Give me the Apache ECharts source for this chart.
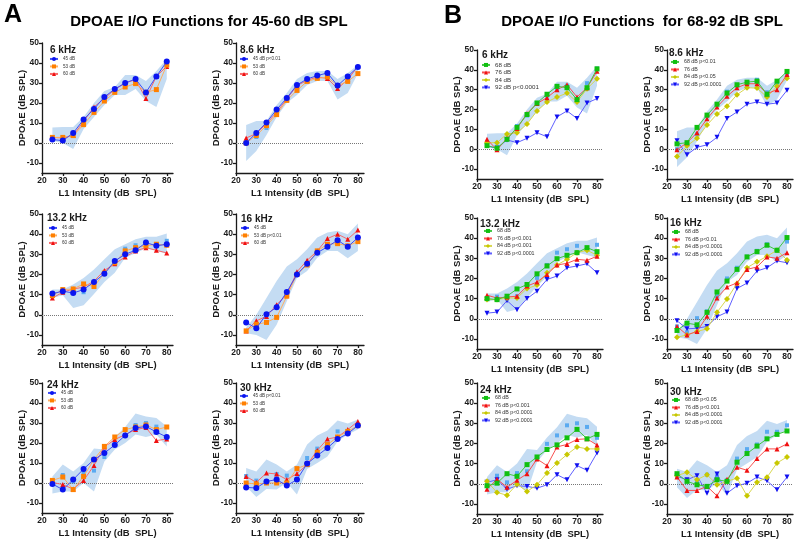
<!DOCTYPE html>
<html><head><meta charset="utf-8">
<script src="https://cdn.jsdelivr.net/npm/echarts@6/dist/echarts.min.js"></script>
<style>html,body{margin:0;padding:0;background:#fff}#c{width:800px;height:542px}</style>
</head><body><div id="c"></div>
<script>
// ---------------- DATA ----------------
const l1Levels = [25,30,35,40,45,50,55,60,65,70,75,80];
const xTickValues = [20,30,40,50,60,70,80];
const yTickValues = [-10,0,10,20,30,40,50];
const freqLabels = ['6 kHz','8.6 kHz','13.2 kHz','16 kHz','24 kHz','30 kHz'];

// normal (control) range band and control mean, per frequency
const ctrlLow6  = [1,0,-3,7,13,19,24,24,27,21,18,32];
const ctrlHigh6 = [7.8,8,8,13,20,26,28,34,34,31,36,42];
const ctrlMean6 = [1.7,1.2,5,11.7,17,23,27,30,32,25.3,33.3,40.7];
const ctrlLow8  = [-9,-4,4,13,20,24,29,31,31,21.7,25,34.7];
const ctrlHigh8 = [9,11,11,19,25,32,35,36,36,32,35,39];
const ctrlMean8 = [0,3,7.5,16.7,22.5,29,32,33.7,35,28.7,33.3,38];
const ctrlLow13  = [8.3,9.7,3.3,4.7,10.3,16.3,20.8,28.3,30.5,33,31.7,30.3];
const ctrlHigh13 = [12.5,12.5,15,18.3,22.5,27.5,32.5,35,37.5,38.7,38.7,40.3];
const ctrlMean13 = [10.2,11,11,11.2,16.3,20.3,26.7,32.8,34.5,36.2,35,36.7];
const ctrlLow16  = [-9.2,-10,-12.5,-5,6.7,18.3,21.7,28.3,31.7,31.7,28,31.7];
const ctrlHigh16 = [-6.3,0,8.3,16.7,24,27.5,32.5,38.3,40.8,41.7,40,45.3];
const ctrlMean16 = [-3.8,-6.7,0.3,3.7,11.3,20,25.3,30.8,33.7,37,33.7,38.3];
const ctrlLow24  = [-5.3,-4.2,-4.2,0,-4.2,10.8,16.7,20,24.2,23,24.2,18.3];
const ctrlHigh24 = [3.3,9.2,5.8,10,17.3,16.7,23,28,34.7,33.3,32.5,28.3];
const ctrlMean24 = [-0.5,4,0.7,5.3,6.2,13,19.8,24,29,30,28.2,22.8];
const ctrlLow30  = [-1.7,-7,-3,-3.3,0.3,-5.8,7,10,13.3,20.8,24.2,26.7];
const ctrlHigh30 = [7.5,5.8,11.7,9.2,5.8,9.2,19.2,23.7,26.2,31.3,29.7,31.7];
const ctrlMean30 = [3.5,1.2,1,4.5,3.7,1.7,12.5,17.2,19.5,25.8,25.8,29];

// Panel A: 45, 53, 60 dB exposure
const a6k_45 = [1.7,1.2,5,11.7,17,23,27,30,32,25.3,33.3,40.7];
const a6k_53 = [2.8,2.8,3.7,9.2,15.3,21,25.3,28,29.7,25.3,26.7,39];
const a6k_60 = [2.8,2.5,3.7,10.8,18,22.3,26.7,30,31.7,22.2,33.3,38.3];
const a8k_45 = [0,5,10.3,16.7,22.5,29,32,33.7,35,28.7,33.3,38];
const a8k_53 = [0,3.8,8.7,14.2,21.3,26.3,30.8,32.3,33,28.7,30.8,34.7];
const a8k_60 = [2.5,4.7,9.7,15.3,22,28.7,31.3,33,32.3,27.2,31.7,38.3];
const a13k_45 = [10.5,11.7,10.8,12.5,16.3,20.3,26.7,30,32,35.8,34.2,35];
const a13k_53 = [9.5,12.5,12.8,15.3,14,20.7,25.8,31.7,33.3,34.2,35,34.5];
const a13k_60 = [8.3,11.2,12.8,13.7,16.7,22,25.3,28.7,31.7,33.3,32,30.7];
const a16k_45 = [-3.8,-6.7,0.3,3.7,11.3,20,25.3,30.8,33.7,37,33.7,38.3];
const a16k_53 = [-8,-4.7,-3.8,-1.3,9.2,20,24.7,31.7,35,35.3,34.2,36.3];
const a16k_60 = [-8,-3,-0.8,5,10,21.3,27,31.7,37.8,40,37.5,42];
const a24k_45 = [-0.5,-3.3,1.7,7,11.7,15,19,23.8,27.5,28.3,25.5,23];
const a24k_53 = [1.3,3,-3.3,3.3,11.7,18.3,23,26.7,28,29,26.7,28];
const a24k_60 = [0.3,-0.8,-3,1.3,8.7,18,21.7,24.2,26.7,27.7,21.2,22];
const a30k_45 = [-2.2,-2.5,0.8,1.7,-1.3,1.7,9.7,13.7,17.5,22,24.7,28.7];
const a30k_53 = [0,-0.5,0,0,0,7.2,9.2,15.3,19.2,23,25.8,28.7];
const a30k_60 = [3.3,0.3,5,4.5,1.7,4.7,9.2,16.3,22,23,26.7,30.8];

// Panel B: 68, 76, 84, 92 dB exposure
const b6k_68 = [1.8,0.5,5,11,17.5,23.3,27.7,31.7,31,25,31,40.5];
const b6k_76 = [5,-0.3,5.5,10.5,18,23,26,30,32.5,26.3,31,39.3];
const b6k_84 = [3.3,3.3,7.7,8.3,12.7,19.3,23.8,26.3,28.3,23.8,30.5,35.5];
const b6k_92 = [1.7,0.5,4.7,3.3,5.5,8.3,6.3,16.3,19.3,15.5,23.3,25.5];
const b8k_68 = [2.7,3.3,11,17.2,22.7,28.3,32.5,33.8,34.3,27.7,34.3,39.2];
const b8k_76 = [-0.3,3.3,8.3,15.3,21.3,26.7,31,33,33,28,30,37.7];
const b8k_84 = [-3.7,1.7,5.5,12.2,17.7,21.7,27.5,31,30.8,26.3,31.7,35.8];
const b8k_92 = [4.3,-2.8,1,2.2,6,15.5,18.8,22.7,23.8,22.7,23.3,29.7];
const b13k_68 = [10,9.5,11.2,14.8,17,22.3,26.2,29.8,31.5,32.8,35.3,33.3];
const b13k_76 = [11.7,10.3,10.8,11.2,16.2,18.2,22,26.7,27.5,29.5,29,31];
const b13k_84 = [9.5,9.5,10.3,10.3,15,16.7,22.8,26.7,29.5,32.8,34,31.5];
const b13k_92 = [2.8,3.3,9,4.5,10,13.7,19.5,21.2,25.3,26.2,27.3,22.8];
const b16k_68 = [-5.8,-2.2,-3,3.2,13.3,18.7,24.5,30.7,33.3,36.5,34,40.3];
const b16k_76 = [-3.8,-8,-6.3,1.2,10.3,15.8,17.8,24.5,25.7,30.7,30,32.8];
const b16k_84 = [-9.2,-8,-6.3,-5,3.2,9.8,17.5,25.3,28.3,31,34,29.2];
const b16k_92 = [-1,-5,-4.7,-3.8,1,3.3,15,17.7,23.7,25.3,28.7,27.8];
const b24k_68 = [-1,0.3,5,3.7,9.5,13.3,17,19.3,22.8,27,22.3,24.5];
const b24k_76 = [-2.7,2.3,-1.7,1.7,5,12.3,9,18.3,19.5,22,22.3,19.2];
const b24k_84 = [1.2,-4.3,-5.7,-0.2,-3.8,-0.5,5.3,10.3,14.5,18.3,17.3,17.3];
const b24k_92 = [0.7,2,-2.7,-1,-1.3,-2.2,-0.5,4.5,2,9,6.7,15.3];
const b30k_68 = [5,1.2,-0.5,-1.3,2,1.2,10.7,15,18.7,22.3,24.5,26.2];
const b30k_76 = [3.3,-3.3,-3.3,-1.3,-6,2.3,8.2,6.7,12.5,17.3,17.3,19.8];
const b30k_84 = [4,5.7,2,4.5,-0.5,1.2,2.8,-6,0.7,3.2,10.3,13.3];
const b30k_92 = [3.7,2,4,-4.7,4.8,-4.7,-1,0.3,3.3,1.5,-3,3.3];

// legend names
const namesA1 = ['45 dB','53 dB','60 dB'];
const namesA2 = ['45 dB p<0.01','53 dB','60 dB'];
const namesA3 = ['45 dB','53 dB','60 dB'];
const namesA4 = ['45 dB','53 dB p<0.01','60 dB'];
const namesA5 = ['45 dB','53 dB','60 dB'];
const namesA6 = ['45 dB p<0.01','53 dB','60 dB'];
const namesB1 = ['68 dB','76 dB','84 dB','92 dB p<0.0001'];
const namesB2 = ['68 dB p<0.01','76 dB','84 dB p<0.05','92 dB p<0.0001'];
const namesB3 = ['68 dB','76 dB p<0.001','84 dB p<0.001','92 dB p<0.0001'];
const namesB4 = ['68 dB','76 dB p<0.01','84 dB p<0.0001','92 dB p<0.0001'];
const namesB5 = ['68 dB','76 dB p<0.001','84 dB p<0.0001','92 dB p<0.0001'];
const namesB6 = ['68 dB p<0.05','76 dB p<0.001','84 dB p<0.0001','92 dB p<0.0001'];

// ---------------- STYLE / LAYOUT ----------------
const FF = '"Liberation Sans", Arial, sans-serif';
const INK = '#1a1a1a';
const styleA = [
  {color:'#0a14f0', line:'#3c4cf5', symbol:'circle', size:6},
  {color:'#ff8000', line:'#ffae60', symbol:'rect', size:5},
  {color:'#f01010', line:'#f86a6a', symbol:'triangle', size:5}
];
const styleB = [
  {color:'#10c010', line:'#40c840', symbol:'rect', size:5},
  {color:'#f01010', line:'#f85050', symbol:'triangle', size:5},
  {color:'#c8c800', line:'#d8d850', symbol:'diamond', size:6},
  {color:'#1010f0', line:'#6060ff', symbol:'path://M0,0L10,0L5,9Z', size:5}
];
const bandLow  = [ctrlLow6, ctrlLow8, ctrlLow13, ctrlLow16, ctrlLow24, ctrlLow30];
const bandHigh = [ctrlHigh6, ctrlHigh8, ctrlHigh13, ctrlHigh16, ctrlHigh24, ctrlHigh30];
const ctrlMean = [ctrlMean6, ctrlMean8, ctrlMean13, ctrlMean16, ctrlMean24, ctrlMean30];

const panels = [
  {g:[42,43,131,130],  f:0, lab:[50,50],  leg:[53,59],  fs:4.6, names:namesA1, data:[a6k_45,a6k_53,a6k_60], st:styleA},
  {g:[236,43,128,130], f:1, lab:[240,50], leg:[243,59], fs:4.6, names:namesA2, data:[a8k_45,a8k_53,a8k_60], st:styleA},
  {g:[42,214,131,131], f:2, lab:[47,218], leg:[52,228], fs:4.6, names:namesA3, data:[a13k_45,a13k_53,a13k_60], st:styleA},
  {g:[236,214,128,131],f:3, lab:[241,219],leg:[244,228],fs:4.6, names:namesA4, data:[a16k_45,a16k_53,a16k_60], st:styleA},
  {g:[42,383,131,130], f:4, lab:[47,385], leg:[51,393], fs:4.6, names:namesA5, data:[a24k_45,a24k_53,a24k_60], st:styleA},
  {g:[236,383,128,130],f:5, lab:[240,388],leg:[243,396],fs:4.6, names:namesA6, data:[a30k_45,a30k_53,a30k_60], st:styleA},
  {g:[477,50,126,129], f:0, lab:[482,55], leg:[485,65], fs:6.2, names:namesB1, data:[b6k_68,b6k_76,b6k_84,b6k_92], st:styleB},
  {g:[667,50,126,129], f:1, lab:[669,53], leg:[674,62], fs:5.3, names:namesB2, data:[b8k_68,b8k_76,b8k_84,b8k_92], st:styleB},
  {g:[477,218,126,131],f:2, lab:[480,224],leg:[487,231],fs:5.3, names:namesB3, data:[b13k_68,b13k_76,b13k_84,b13k_92], st:styleB},
  {g:[667,218,126,131],f:3, lab:[670,223],leg:[675,232],fs:5.3, names:namesB4, data:[b16k_68,b16k_76,b16k_84,b16k_92], st:styleB},
  {g:[477,383,126,131],f:4, lab:[480,390],leg:[485,398],fs:5.3, names:namesB5, data:[b24k_68,b24k_76,b24k_84,b24k_92], st:styleB},
  {g:[667,383,126,131],f:5, lab:[670,392],leg:[675,400],fs:5.3, names:namesB6, data:[b30k_68,b30k_76,b30k_84,b30k_92], st:styleB}
];

const grid = [], xAxis = [], yAxis = [], series = [], legend = [], graphic = [];

panels.forEach((p, i) => {
  grid.push({left:p.g[0], top:p.g[1], width:p.g[2], height:p.g[3], outerBoundsMode:'none'});
  xAxis.push({
    type:'value', gridIndex:i, min:20, max:83,
    axisLine:{show:true, onZero:false, lineStyle:{color:INK, width:1.3}},
    axisTick:{show:true, customValues:xTickValues, length:3, lineStyle:{color:INK, width:1.3}},
    axisLabel:{customValues:xTickValues, fontSize:8.5, fontWeight:'bold', color:INK, margin:3, fontFamily:FF},
    splitLine:{show:false},
    name:'L1 Intensity (dB  SPL)', nameLocation:'middle', nameGap:15, nameMoveOverlap:false,
    nameTextStyle:{fontSize:9.5, fontWeight:'bold', color:INK, fontFamily:FF}
  });
  yAxis.push({
    type:'value', gridIndex:i, min:-15, max:50,
    axisLine:{show:true, onZero:false, lineStyle:{color:INK, width:1.3}},
    axisTick:{show:true, customValues:yTickValues, length:3, lineStyle:{color:INK, width:1.3}},
    axisLabel:{customValues:yTickValues, fontSize:8.5, fontWeight:'bold', color:INK, margin:3, fontFamily:FF},
    splitLine:{show:false},
    name:'DPOAE (dB SPL)', nameLocation:'middle', nameGap:15, nameRotate:90, nameMoveOverlap:false,
    nameTextStyle:{fontSize:9.5, fontWeight:'bold', color:INK, fontFamily:FF}
  });
  const lo = bandLow[p.f], hi = bandHigh[p.f];
  series.push({
    type:'custom', xAxisIndex:i, yAxisIndex:i, silent:true, z:1,
    data:[[50, 10]],
    renderItem:(params, api) => {
      const pts = [];
      l1Levels.forEach((x, k) => pts.push(api.coord([x, hi[k]])));
      for (let k = l1Levels.length - 1; k >= 0; k--) pts.push(api.coord([l1Levels[k], lo[k]]));
      return {type:'polygon', shape:{points:pts}, style:{fill:'#c4dcf3'}};
    }
  });
  series.push({
    type:'line', name:'Control', xAxisIndex:i, yAxisIndex:i, z:2, silent:true,
    data:l1Levels.map((x, k) => [x, ctrlMean[p.f][k]]),
    symbol:'rect', symbolSize:4, showSymbol:true,
    lineStyle:{width:0, opacity:0}, itemStyle:{color:'#5aaaf0'},
    markLine:{silent:true, symbol:'none', label:{show:false},
      lineStyle:{type:'dotted', color:'#777', width:1},
      data:[{yAxis:0}]}
  });
  p.data.forEach((d, j) => {
    const s = p.st[j];
    series.push({
      type:'line', name:p.names[j], xAxisIndex:i, yAxisIndex:i, z:10 - j,
      data:l1Levels.map((x, k) => [x, d[k]]),
      symbol:s.symbol, symbolSize:s.size, showSymbol:true,
      itemStyle:{color:s.color}, lineStyle:{color:s.line, width:1}
    });
  });
  legend.push({
    orient:'vertical', left:p.leg[0] - 4, top:p.leg[1] - 3.3, padding:0,
    itemWidth:8, itemHeight:5, itemGap:1, selectedMode:false,
    data:p.names,
    textStyle:{fontSize:p.fs, lineHeight:6.5, color:'#333', fontFamily:FF, padding:0}
  });
  graphic.push({type:'text', x:p.lab[0], y:p.lab[1],
    style:{text:freqLabels[p.f], font:'bold 10px ' + FF, fill:INK, textVerticalAlign:'middle'}});
});

graphic.push({type:'text', x:4, y:15, style:{text:'A', font:'bold 25px ' + FF, fill:'#000', textVerticalAlign:'middle'}});
graphic.push({type:'text', x:209, y:22, style:{text:'DPOAE I/O Functions for 45-60 dB SPL', font:'bold 15px ' + FF, fill:'#000', textAlign:'center', textVerticalAlign:'middle'}});
graphic.push({type:'text', x:444, y:16, style:{text:'B', font:'bold 25px ' + FF, fill:'#000', textVerticalAlign:'middle'}});
graphic.push({type:'text', x:642, y:22, style:{text:'DPOAE I/O Functions  for 68-92 dB SPL', font:'bold 15px ' + FF, fill:'#000', textAlign:'center', textVerticalAlign:'middle'}});

const chart = echarts.init(document.getElementById('c'), null, {renderer:'canvas'});
chart.setOption({animation:false, backgroundColor:'#fff', grid, xAxis, yAxis, series, legend, graphic});
</script></body></html>
